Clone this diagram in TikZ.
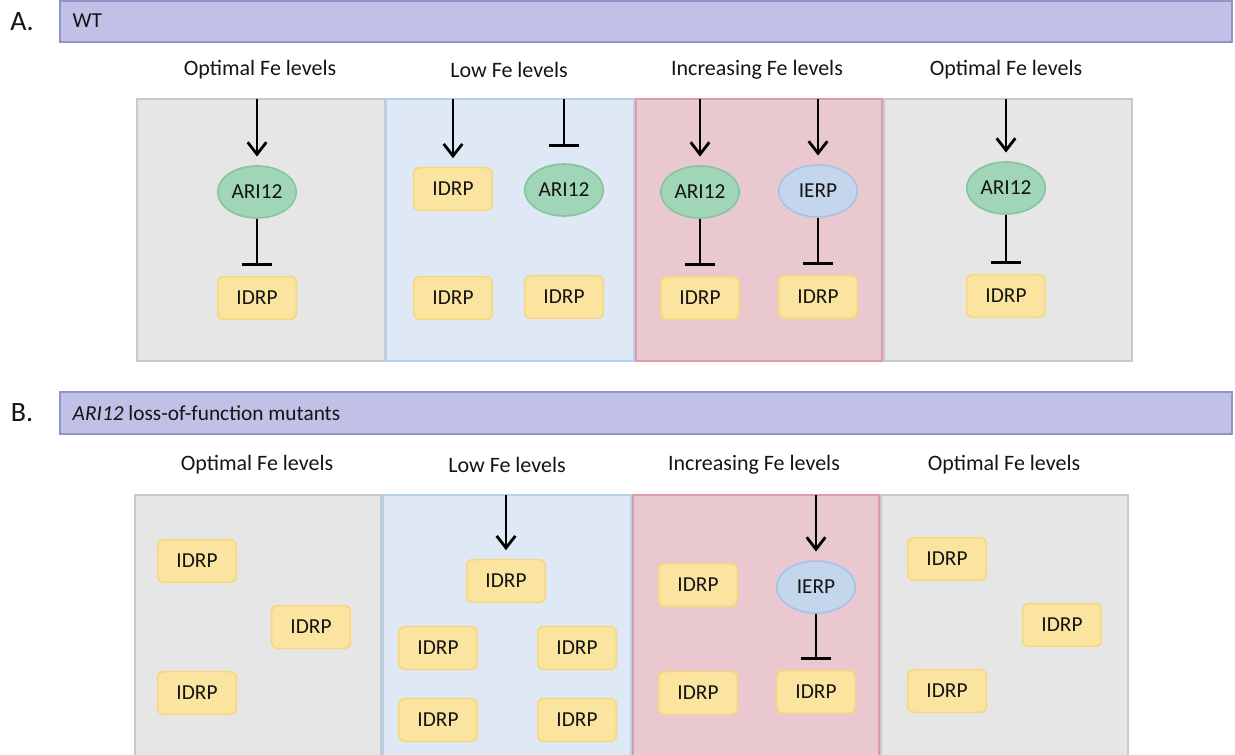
\documentclass[tikz,border=0pt]{standalone}
\usepackage{fontspec}
\setmainfont{Carlito}
\usetikzlibrary{arrows.meta,shapes.geometric}
\definecolor{hdrfill}{HTML}{C1C1E7}
\definecolor{hdrdraw}{HTML}{8F95C9}
\definecolor{gfill}{HTML}{E6E6E6}
\definecolor{gdraw}{HTML}{C9C9C9}
\definecolor{bfill}{HTML}{DFE8F5}
\definecolor{bdraw}{HTML}{B8CFEE}
\definecolor{pfill}{HTML}{EAC8D0}
\definecolor{pdraw}{HTML}{DE9CAA}
\definecolor{yfill}{HTML}{FBE4A0}
\definecolor{ydraw}{HTML}{F6D77C}
\definecolor{efill}{HTML}{A0D6B7}
\definecolor{edraw}{HTML}{85C49F}
\definecolor{ifill}{HTML}{C3D6EC}
\definecolor{idraw}{HTML}{A8C2E4}
\definecolor{txt}{HTML}{141414}
\tikzset{
  hdr/.style={fill=hdrfill,draw=hdrdraw,line width=1.1pt},
  gpanel/.style={fill=gfill,draw=gdraw,line width=1.3pt},
  bpanel/.style={fill=bfill,draw=bdraw,line width=1.3pt},
  ppanel/.style={fill=pfill,draw=pdraw,line width=1.3pt},
  idrp/.style={rectangle,rounded corners=4.5pt,fill=yfill,draw=ydraw,line width=1.2pt,minimum width=59pt,minimum height=32pt,font=\fontsize{16}{18}\selectfont,text=txt},
  ari/.style={ellipse,fill=efill,draw=edraw,line width=1.2pt,minimum width=59pt,minimum height=39pt,inner sep=0pt,font=\fontsize{16}{18}\selectfont,text=txt},
  ierp/.style={ellipse,fill=ifill,draw=idraw,line width=1.2pt,minimum width=59pt,minimum height=39pt,inner sep=0pt,font=\fontsize{16}{18}\selectfont,text=txt},
  lvl/.style={font=\fontsize{16.5}{19}\selectfont,text=txt},
  hdrtxt/.style={font=\fontsize{16}{19}\selectfont,text=txt,anchor=west},
  lett/.style={font=\fontsize{21}{24}\selectfont,text=txt},
  act/.style={line width=2.1pt,-{Straight Barb[length=9pt,width=14pt,line width=2.1pt]},shorten >=6.5pt},
  inh/.style={line width=2.1pt,-{Bar[width=22pt,line width=2.1pt]}},
}
\begin{document}
\begin{tikzpicture}[x=0.75pt,y=-0.75pt]
\useasboundingbox (0,0) rectangle (1235,755);
% ---------- A ----------
\draw[hdr] (60,1) rectangle (1232,42);
\node[lett] (la) at (22,22) {A.};
\node[hdrtxt] (ta) at (68,21) {WT};
\node[lvl] (a1l) at (260,70) {Optimal Fe levels};
\node[lvl] (a2l) at (509,70) {Low Fe levels};
\node[lvl] (a3l) at (757,70) {Increasing Fe levels};
\node[lvl] (a4l) at (1006,70) {Optimal Fe levels};
\draw[gpanel] (137,99) rectangle (385,361);
\draw[bpanel] (386,99) rectangle (634,361);
\draw[ppanel] (636,99) rectangle (882,361);
\draw[gpanel] (884,99) rectangle (1132,361);
% panel A1
\coordinate (a1t) at (257,99);
\node[ari] (a1e) at (257,192) {ARI12};
\node[idrp] (a1r) at (257,298) {IDRP};
\draw[act] (a1t) -- (a1e.north);
\draw[inh,shorten >=7.5pt] (a1e.south) -- (a1r.north);
% panel A2
\coordinate (a2t1) at (453,99);
\coordinate (a2t2) at (564,99);
\node[idrp] (a2r1) at (453,189) {IDRP};
\node[ari] (a2e) at (564,190) {ARI12};
\node[idrp] (a2r2) at (453,298) {IDRP};
\node[idrp] (a2r3) at (564,297) {IDRP};
\draw[act] (a2t1) -- (a2r1.north);
\draw[inh,shorten >=12.5pt] (a2t2) -- (a2e.north);
% panel A3
\coordinate (a3t1) at (700,99);
\coordinate (a3t2) at (818,99);
\node[ari] (a3e) at (700,192) {ARI12};
\node[ierp] (a3i) at (818,191) {IERP};
\node[idrp] (a3r1) at (700,298) {IDRP};
\node[idrp] (a3r2) at (818,297) {IDRP};
\draw[act] (a3t1) -- (a3e.north);
\draw[act] (a3t2) -- (a3i.north);
\draw[inh,shorten >=7.5pt] (a3e.south) -- (a3r1.north);
\draw[inh,shorten >=7.5pt] (a3i.south) -- (a3r2.north);
% panel A4
\coordinate (a4t) at (1006,99);
\node[ari] (a4e) at (1006,188) {ARI12};
\node[idrp] (a4r) at (1006,296) {IDRP};
\draw[act] (a4t) -- (a4e.north);
\draw[inh,shorten >=7.5pt] (a4e.south) -- (a4r.north);
% ---------- B ----------
\draw[hdr] (60,392) rectangle (1232,434);
\node[lett] (lb) at (22,413) {B.};
\node[hdrtxt] (tb) at (68,413) {\textit{ARI12} loss-of-function mutants};
\node[lvl] (b1l) at (257,465) {Optimal Fe levels};
\node[lvl] (b2l) at (507,465) {Low Fe levels};
\node[lvl] (b3l) at (754,465) {Increasing Fe levels};
\node[lvl] (b4l) at (1004,465) {Optimal Fe levels};
\draw[gpanel] (135,495) rectangle (381,760);
\draw[bpanel] (383,495) rectangle (631,760);
\draw[ppanel] (633,495) rectangle (879,760);
\draw[gpanel] (881,495) rectangle (1128,760);
% panel B1
\node[idrp] (b1r1) at (197,561) {IDRP};
\node[idrp] (b1r2) at (311,627) {IDRP};
\node[idrp] (b1r3) at (197,693) {IDRP};
% panel B2
\coordinate (b2t) at (506,495);
\node[idrp] (b2r1) at (506,581) {IDRP};
\node[idrp] (b2r2) at (438,648) {IDRP};
\node[idrp] (b2r3) at (577,648) {IDRP};
\node[idrp] (b2r4) at (438,720) {IDRP};
\node[idrp] (b2r5) at (577,720) {IDRP};
\draw[act] (b2t) -- (b2r1.north);
% panel B3
\coordinate (b3t) at (816,495);
\node[idrp] (b3r1) at (698,585) {IDRP};
\node[ierp] (b3i) at (816,587) {IERP};
\node[idrp] (b3r2) at (698,693) {IDRP};
\node[idrp] (b3r3) at (816,692) {IDRP};
\draw[act] (b3t) -- (b3i.north);
\draw[inh,shorten >=7.5pt] (b3i.south) -- (b3r3.north);
% panel B4
\node[idrp] (b4r1) at (947,559) {IDRP};
\node[idrp] (b4r2) at (1062,625) {IDRP};
\node[idrp] (b4r3) at (947,691) {IDRP};
\end{tikzpicture}
\end{document}
